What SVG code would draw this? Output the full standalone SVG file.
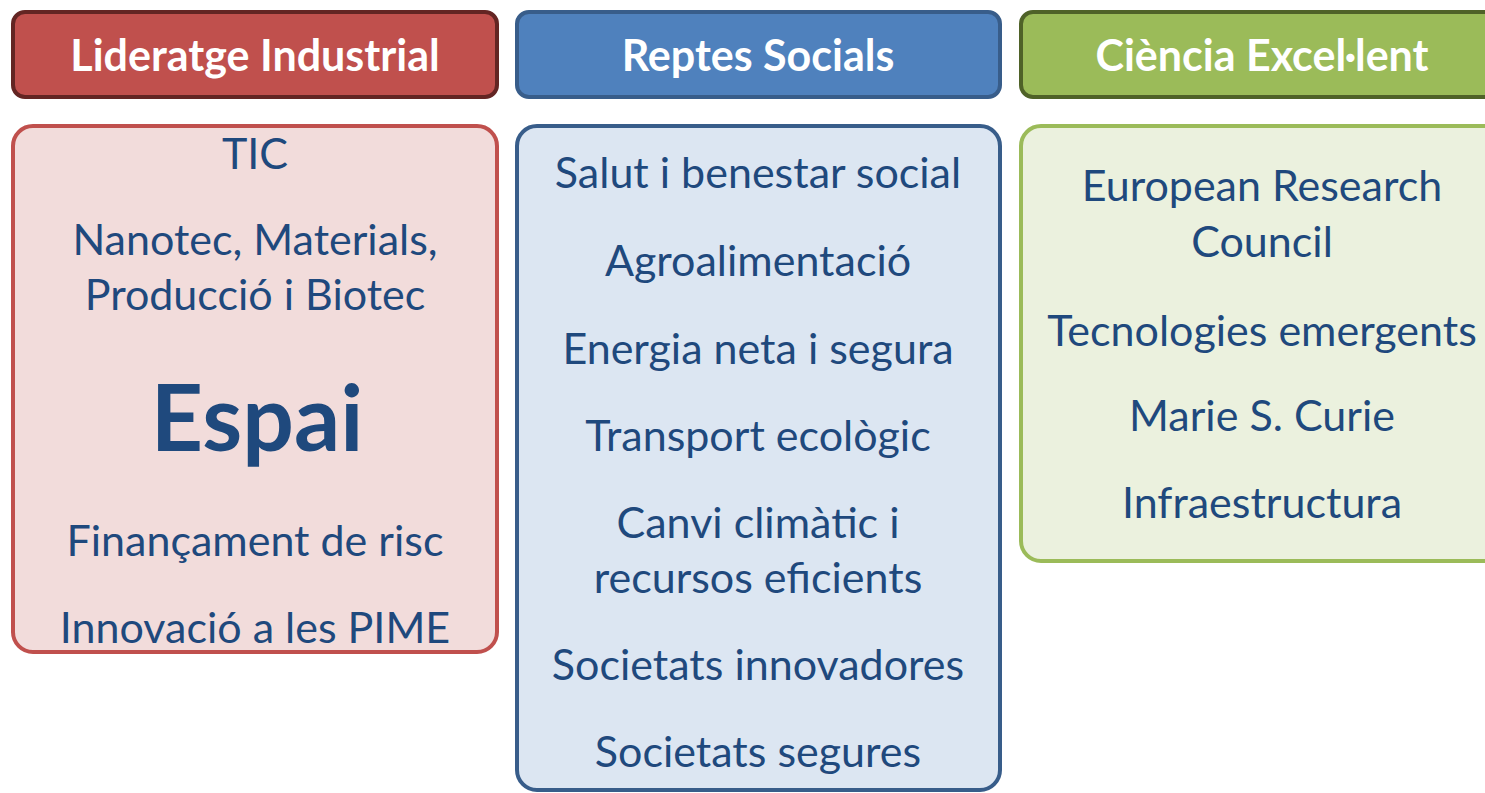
<svg xmlns="http://www.w3.org/2000/svg" width="1485" height="793" viewBox="0 0 1485 793">
<style>
.hd{stroke-width:4}
.bx{stroke-width:4}
.ht{font-family:Lato,"Liberation Sans",sans-serif;font-weight:bold;font-size:43px;fill:#ffffff;text-anchor:middle}
.t{font-family:Lato,"Liberation Sans",sans-serif;font-size:43px;fill:#1f497d;text-anchor:middle}
.big{font-family:Lato,"Liberation Sans",sans-serif;font-weight:bold;font-size:91px;fill:#1f497d;text-anchor:middle}
</style>
<rect width="1485" height="793" fill="#ffffff"/>
<g id="hdr-industrial">
<rect class="hd" x="13" y="12" width="484" height="85" rx="12" fill="#c0504d" stroke="#632523"/>
<text class="ht" x="255" y="71">Lideratge Industrial</text>
</g>
<g id="hdr-reptes">
<rect class="hd" x="517" y="12" width="483" height="85" rx="12" fill="#4f81bd" stroke="#385d8a"/>
<text class="ht" x="758" y="71">Reptes Socials</text>
</g>
<g id="hdr-ciencia">
<rect class="hd" x="1021" y="12" width="484" height="85" rx="12" fill="#9bbb59" stroke="#4f6228"/>
<text class="ht" x="1262" y="71">Ciència Excel·lent</text>
</g>
<g id="box-industrial">
<rect class="bx" x="13" y="126" width="484" height="526" rx="20" fill="#f2dcdb" stroke="#c0504d"/>
<text class="t" x="255" y="169">TIC</text>
<text class="t" x="255" y="255">Nanotec, Materials,</text>
<text class="t" x="255" y="310">Producció i Biotec</text>
<text class="big" x="257" y="451">Espai</text>
<text class="t" x="255" y="556">Finançament de risc</text>
<text class="t" x="255" y="643">Innovació a les PIME</text>
</g>
<g id="box-reptes">
<rect class="bx" x="517" y="126" width="483" height="664" rx="20" fill="#dce6f2" stroke="#385d8a"/>
<text class="t" x="758" y="188">Salut i benestar social</text>
<text class="t" x="758" y="276">Agroalimentació</text>
<text class="t" x="758" y="364">Energia neta i segura</text>
<text class="t" x="758" y="451">Transport ecològic</text>
<text class="t" x="758" y="538">Canvi climàtic i</text>
<text class="t" x="758" y="593">recursos eficients</text>
<text class="t" x="758" y="680">Societats innovadores</text>
<text class="t" x="758" y="767">Societats segures</text>
</g>
<g id="box-ciencia">
<rect class="bx" x="1021" y="126" width="484" height="435" rx="20" fill="#ebf1de" stroke="#9bbb59"/>
<text class="t" x="1262" y="201">European Research</text>
<text class="t" x="1262" y="257">Council</text>
<text class="t" x="1262" y="346">Tecnologies emergents</text>
<text class="t" x="1262" y="431">Marie S. Curie</text>
<text class="t" x="1262" y="518">Infraestructura</text>
</g>
<g id="connectors"></g>
</svg>
